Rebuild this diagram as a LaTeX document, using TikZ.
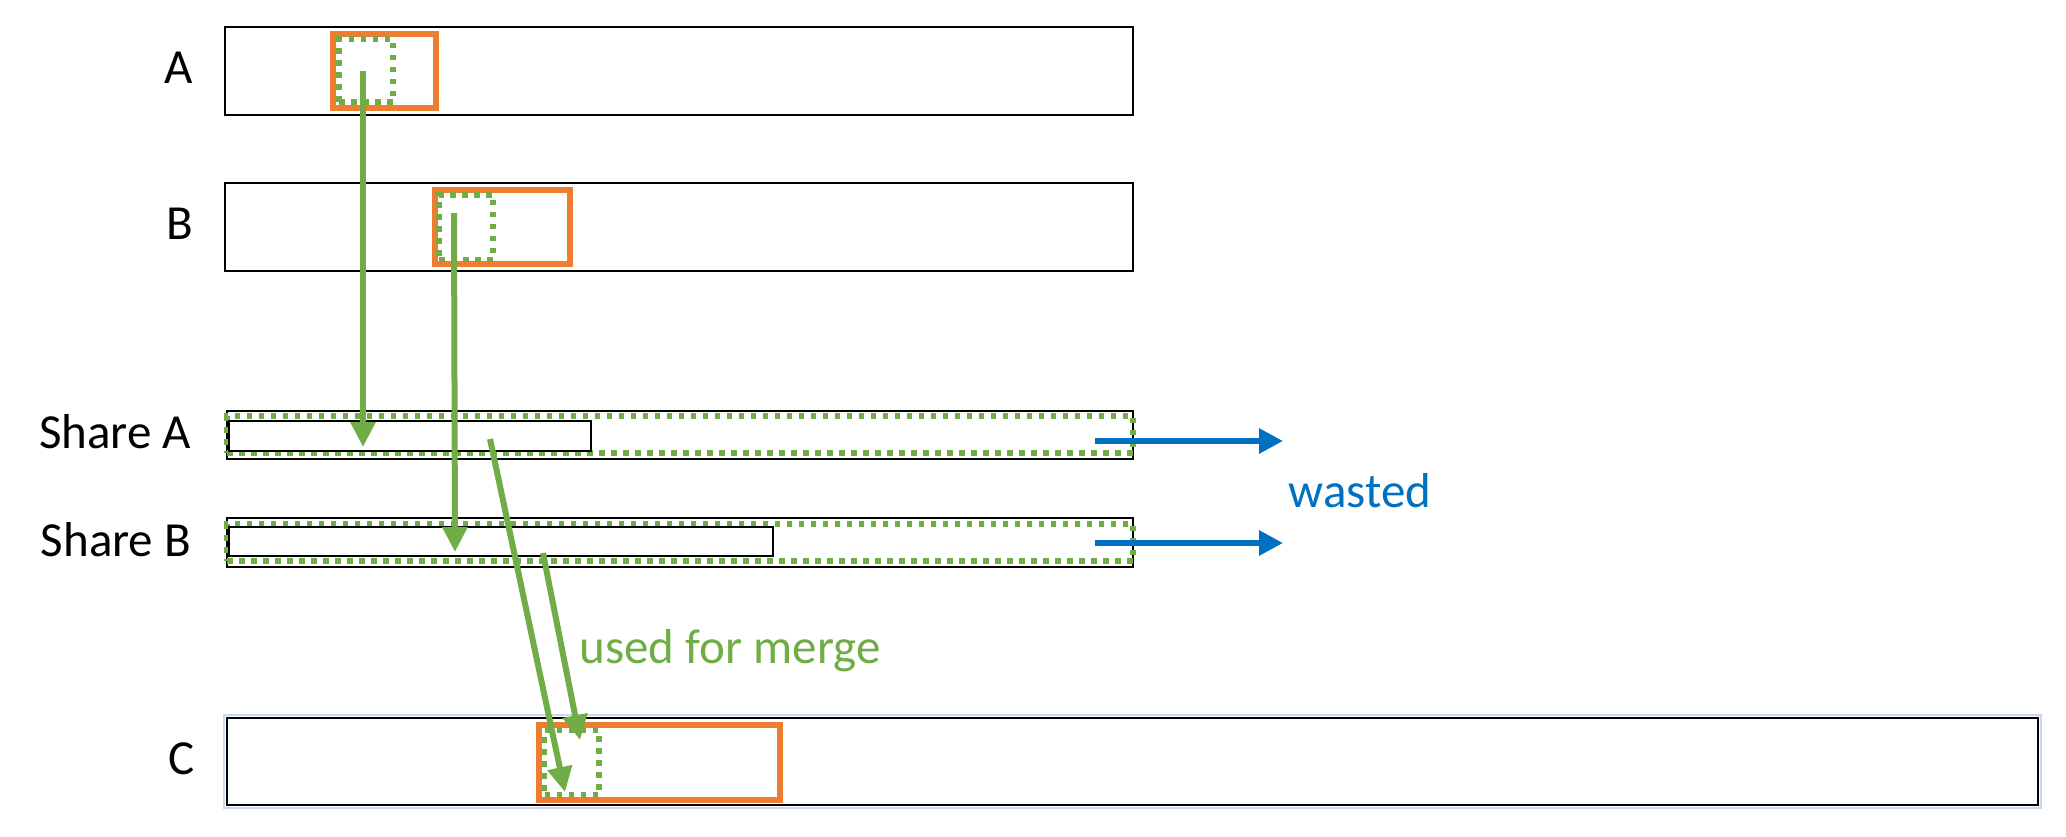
\documentclass[tikz,border=0pt]{standalone}
\usepackage{fontspec}
\setmainfont{Carlito}
\usetikzlibrary{positioning,arrows.meta}
\definecolor{grn}{RGB}{112,173,71}
\definecolor{org}{RGB}{237,125,49}
\definecolor{blu}{RGB}{0,112,192}
\definecolor{lblu}{RGB}{198,217,241}
\begin{document}
\begin{tikzpicture}
    [x=1pt,y=-1pt,node distance=31pt,
     row/.style={draw,line width=1.4pt,inner sep=0pt},
     hl/.style={draw=org,line width=6pt,inner sep=0pt},
     sel/.style={draw=grn,line width=5.5pt,dash pattern=on 5.5pt off 6.5pt,inner sep=0pt},
     lbl/.style={inner sep=0pt,yshift=3pt,font=\fontsize{49}{59}\selectfont},
     txt/.style={inner sep=0pt,anchor=base,font=\fontsize{49}{59}\selectfont},
     garr/.style={grn,line width=6pt,-{Triangle[length=25pt,width=24pt]}},
     barr/.style={blu,line width=6pt,-{Triangle[length=24pt,width=24pt]}}]
    \useasboundingbox (0,0) rectangle (2066,836);
    \node[row,minimum width=908pt,minimum height=88pt] (aa) at (679,71) {};
    \node[row,minimum width=908pt,minimum height=88pt] (bb) at (679,227) {};
    \node[row,minimum width=906pt,minimum height=48pt] (sa) at (680,435) {};
    \node[row,minimum width=906pt,minimum height=49pt] (sb) at (680,542.5) {};
    \node[row,minimum width=1811pt,minimum height=87pt] (cc) at (1132.5,761.5) {};
    \draw[lblu,line width=2pt] ([shift={(-2pt,2pt)}]cc.north west) rectangle ([shift={(2pt,-2pt)}]cc.south east);
    \node[lbl,left=of aa] (la) {A};
    \node[lbl,left=of bb] (lb) {B};
    \node[lbl,left=35pt of sa] (lsa) {Share A};
    \node[lbl,left=35pt of sb] (lsb) {Share B};
    \node[lbl,left=of cc] (lc) {C};
    \node[sel,minimum width=906pt,minimum height=37pt] (da) at (680,434.5) {};
    \node[row,minimum width=362pt,minimum height=30pt] (ia) at (410,436) {};
    \node[sel,minimum width=906pt,minimum height=37pt] (db) at (680,542.5) {};
    \node[row,minimum width=544pt,minimum height=29pt] (ib) at (501,541.5) {};
    \node[hl,minimum width=103pt,minimum height=74pt] (oa) at (384.5,71) {};
    \node[hl,minimum width=135pt,minimum height=74pt] (ob) at (502.5,227) {};
    \node[hl,minimum width=241pt,minimum height=75pt] (oc) at (659.5,762.5) {};
    \node[sel,minimum width=54pt,minimum height=63pt] (ga) at (366,70.5) {};
    \node[sel,minimum width=54pt,minimum height=64.5pt] (gb) at (466,227) {};
    \node[sel,minimum width=54.5pt,minimum height=64.5pt] (gc) at (571.75,762.75) {};
    \coordinate (pa) at (363,71);
    \coordinate (qa) at (363,447);
    \coordinate (pb) at (454,213);
    \coordinate (qb) at (455,552);
    \coordinate (pc) at (490,439);
    \coordinate (qc) at (565,792);
    \coordinate (pd) at (543,553);
    \coordinate (qd) at (580,740);
    \coordinate (wa) at (1095,441);
    \coordinate (xa) at (1283,441);
    \coordinate (wb) at (1095,543);
    \coordinate (xb) at (1283,543);
    \draw[garr] (pa) -- (qa);
    \draw[garr] (pb) -- (qb);
    \draw[garr] (pc) -- (qc);
    \draw[garr] (pd) -- (qd);
    \draw[barr] (wa) -- (xa);
    \draw[barr] (wb) -- (xb);
    \node[txt,blu] (ws) at (1360,507) {wasted};
    \node[txt,grn] (um) at (730,663) {used for merge};
\end{tikzpicture}
\end{document}
